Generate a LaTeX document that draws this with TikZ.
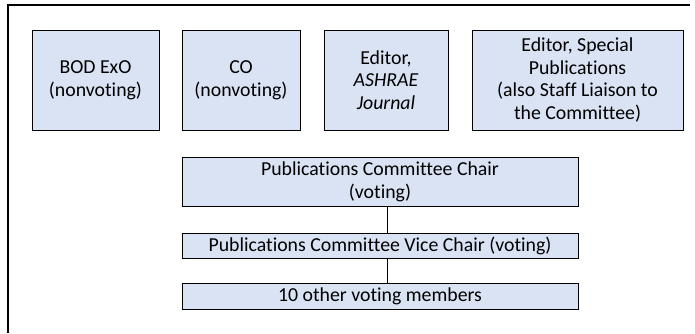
\documentclass[tikz,border=0pt]{standalone}
\usepackage{fontspec}
\setmainfont[Ligatures=NoCommon]{Carlito}
\usepackage{tikz}
\definecolor{boxblue}{RGB}{218,227,243}

\begin{document}
\begin{tikzpicture}[x=1pt,y=-1pt,
  box/.style={draw=black,fill=boxblue,line width=0.9pt,align=center,
    inner sep=2pt,font=\fontsize{19.8}{22.8}\selectfont},
  link/.style={draw,line width=0.9pt}]
  % Canvas
  \useasboundingbox (0,0) rectangle (695,333);
  % Frame
  \draw[line width=1.4pt] (8,333) -- (8,5) -- (690,5);
  % Top row
  \node[box,minimum width=127pt,minimum height=100pt] (bod) at (95.5,80) {BOD ExO\\(nonvoting)};
  \node[box,minimum width=118pt,minimum height=100pt] (co) at (241,80) {CO\\(nonvoting)};
  \node[box,minimum width=124pt,minimum height=100pt] (editor) at (386,80) {Editor,\\\textit{ASHRAE}\\\textit{Journal}};
  \node[box,minimum width=211pt,minimum height=100pt] (special) at (577.5,80) {Editor, Special\\Publications\\(also Staff Liaison to\\the Committee)};
  % Committee chain
  \node[box,minimum width=396pt,minimum height=49pt] (chair) at (380,181.5) {Publications Committee Chair\\(voting)};
  \node[box,minimum width=396pt,minimum height=25pt] (vice) at (380,245.5) {Publications Committee Vice Chair (voting)};
  \node[box,minimum width=396pt,minimum height=26pt] (members) at (380,296) {10 other voting members};
  % Links
  \draw[link] ([xshift=7pt]chair.south) -- ([xshift=7pt]vice.north);
  \draw[link] ([xshift=7pt]vice.south) -- ([xshift=7pt]members.north);
\end{tikzpicture}
\end{document}
